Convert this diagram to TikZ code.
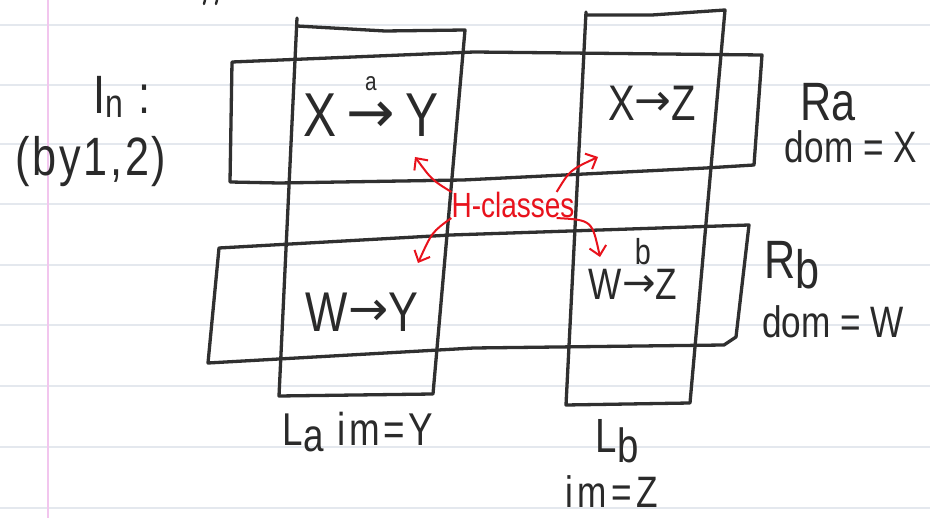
\documentclass[tikz,border=0pt]{standalone}
\usepackage{fontspec}
\setmainfont{Liberation Sans}[FakeStretch=0.8]
\newfontfamily\symfont{DejaVu Sans}
\usetikzlibrary{arrows.meta}
\definecolor{ink}{HTML}{2A2A2A}
\definecolor{boxink}{HTML}{303030}
\definecolor{hred}{HTML}{E8121C}
\definecolor{rulecol}{HTML}{E4E8EE}
\definecolor{margincol}{HTML}{F2C6EE}
\newcommand\hwsize[1]{\fontsize{#1}{#1}\selectfont}
\newcommand\harr[2][0pt]{{\symfont\hwsize{#2}\raisebox{#1}{→}}}
% arrow with a label above: raise, arrow size, label size, gap, label
\newcommand\larr[5]{\raisebox{#1}{\shortstack{{\hwsize{#3}#5}\\[#4]{\symfont\hwsize{#2}→}}}}
\begin{document}
\begin{tikzpicture}[x=1pt,y=-1pt,
 box/.style={draw=boxink, line width=3.3pt, line join=round, line cap=round},
 hw/.style={text=ink, inner sep=0pt},
 harrow/.style={draw=hred, line width=2pt, -{Straight Barb[length=9pt,width=17pt]}},
 rl/.style={draw=rulecol, line width=1.2pt},
 marginline/.style={draw=margincol, line width=1.6pt},
 scrap/.style={draw=ink, line width=2.4pt, line cap=round},
]
\useasboundingbox (0,0) rectangle (930,518);
\fill[white] (0,0) rectangle (930,518);
\foreach \y in {25,85,144,204,265,325,386,447,508} \draw[rl] (0,\y) -- (930,\y);
\draw[marginline] (48,0) -- (48,518);
\draw[scrap] (205,0) -- (204,4);
\draw[scrap] (217,0) -- (216,4);

% column boxes
\draw[box] (297,18) -- (279,396) -- (433,394) -- (465,30) -- (385,31) -- (297,26);
\draw[box] (586,12) -- (566,405) -- (690,403) -- (725,10) -- (652,15) -- (586,15);
% row boxes
\draw[box] (232,62) -- (474,52) -- (762,55) -- (754,165) -- (706,168) -- (463,180) -- (279,183) -- (230,182) -- cycle;
\draw[box] (219,248) -- (451,235) -- (749,225) -- (736,337) -- (724,345) -- (474,348) -- (208,363) -- cycle;

% texts
\node[hw,font=\hwsize{54}] (in) at (122,97) {I\raisebox{-4pt}{\hwsize{40}n}\hspace{16pt}:};
\node[hw,font=\hwsize{54}\addfontfeature{LetterSpace=5}] (by) at (91,162) {(by1,2)};
\node[hw,font=\hwsize{62},anchor=base] (xy) at (371,137) {X\,\larr{4pt}{58}{26}{9pt}{a}\,Y};
\node[hw,font=\hwsize{50}] (xz) at (652,103) {X\harr[5pt]{44}Z};
\node[hw,font=\hwsize{54}] (ra) at (828,102) {Ra};
\node[hw,font=\hwsize{44}] (domx) at (851,147) {dom = X};
\node[hw,font=\hwsize{35},text=hred] (hc) at (513,205) {H-classes};
\node[hw,font=\hwsize{56}] (wy) at (362,312) {W\harr[6pt]{48}Y};
\node[hw,font=\hwsize{44},anchor=base] (wz) at (633,300) {W\larr{3pt}{40}{36}{8pt}{\hspace{8pt}b}Z};
\node[hw,font=\hwsize{54}] (rb) at (792,265) {R\raisebox{-10pt}{b}};
\node[hw,font=\hwsize{44}] (domw) at (833,322) {dom = W};
\node[hw,font=\hwsize{46}\addfontfeature{LetterSpace=8}] (lay) at (358,432) {L\raisebox{-6pt}{a} im=Y};
\node[hw,font=\hwsize{48}] (lbn) at (617,441) {L\raisebox{-10pt}{b}};
\node[hw,font=\hwsize{44}\addfontfeature{LetterSpace=10}] (imz) at (612,492) {im=Z};

% H-class arrows
\coordinate (tUL) at (415,157);
\coordinate (tUR) at (598,157);
\coordinate (tLL) at (418,263);
\coordinate (tLR) at (600,257);
\draw[harrow] (hc.north west) .. controls (432,180) .. (tUL);
\draw[harrow] ([xshift=-18pt]hc.north east) .. controls (570,170) .. (tUR);
\draw[harrow] (hc.south west) .. controls (432,232) .. (tLL);
\draw[harrow] ([xshift=-18pt]hc.south east) .. controls (592,220) .. (tLR);
\end{tikzpicture}
\end{document}
